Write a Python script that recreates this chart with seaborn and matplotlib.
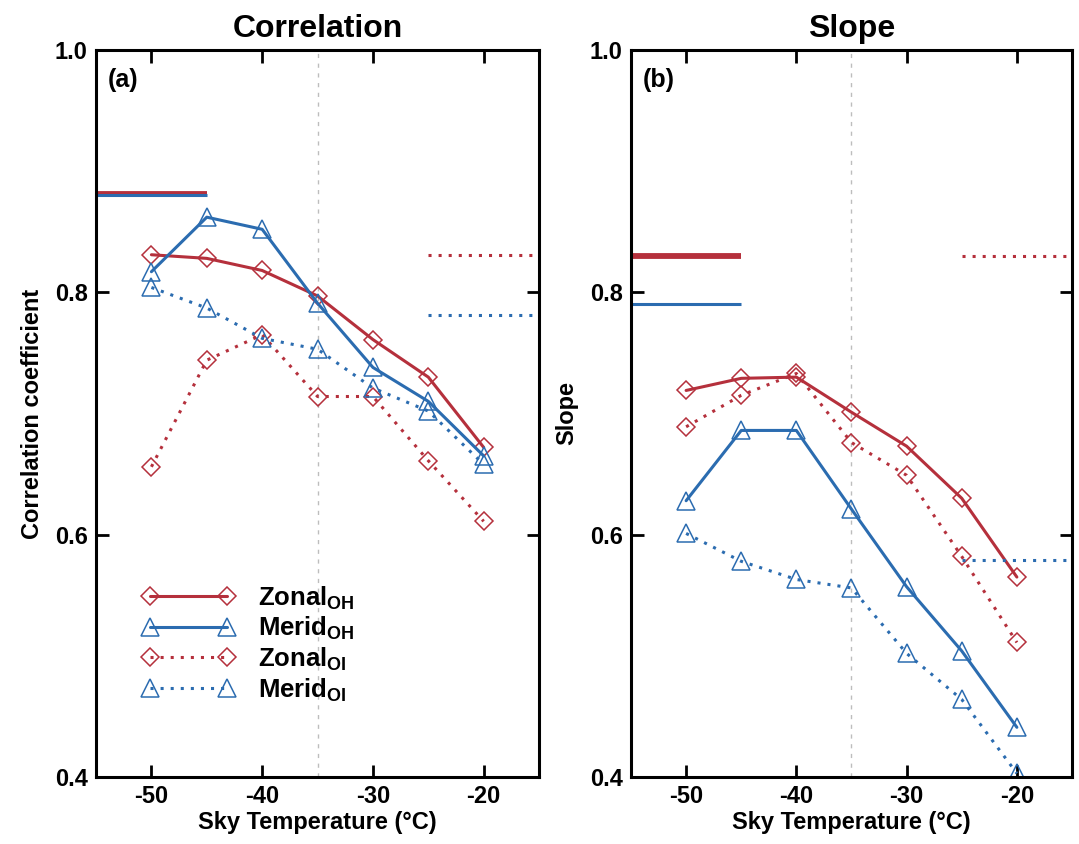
import matplotlib
matplotlib.use("Agg")
import matplotlib.pyplot as plt
import seaborn as sns

# temperaturas do céu (°C)
temps = [-50, -45, -40, -35, -30, -25, -20]

# painel (a) - correlação
corr_zonal_oh = [0.831, 0.828, 0.818, 0.797, 0.761, 0.730, 0.672]
corr_merid_oh = [0.817, 0.862, 0.852, 0.791, 0.738, 0.710, 0.665]
corr_zonal_oi = [0.656, 0.744, 0.765, 0.714, 0.714, 0.661, 0.611]
corr_merid_oi = [0.804, 0.787, 0.762, 0.753, 0.721, 0.702, 0.658]

# painel (b) - inclinação
slope_zonal_oh = [0.719, 0.729, 0.730, 0.701, 0.673, 0.630, 0.565]
slope_merid_oh = [0.628, 0.686, 0.686, 0.621, 0.557, 0.504, 0.441]
slope_zonal_oi = [0.689, 0.715, 0.733, 0.676, 0.649, 0.582, 0.511]
slope_merid_oi = [0.601, 0.578, 0.563, 0.556, 0.502, 0.464, 0.403]

# linhas de referência (OH à esquerda, OI à direita)
ref_corr = {"zonal_oh": 0.881, "merid_oh": 0.880, "zonal_oi": 0.831, "merid_oi": 0.781}
ref_slope = {"zonal_oh": 0.830, "merid_oh": 0.790, "zonal_oi": 0.830, "merid_oi": 0.579}

series_labels = [r"Zonal$_{\mathbf{OH}}$", r"Merid$_{\mathbf{OH}}$",
                 r"Zonal$_{\mathbf{OI}}$", r"Merid$_{\mathbf{OI}}$"]
x_ticks = [-50, -40, -30, -20]
y_ticks = [0.4, 0.6, 0.8, 1.0]

RED = "#B5303C"
BLUE = "#2B6CB0"

sns.set_style("ticks")
plt.rcParams["font.family"] = ["Liberation Sans", "DejaVu Sans"]
plt.rcParams["font.weight"] = "bold"
plt.rcParams["mathtext.fontset"] = "custom"
plt.rcParams["mathtext.bf"] = "Liberation Sans:bold"
plt.rcParams["mathtext.rm"] = "Liberation Sans:bold"
plt.rcParams["axes.unicode_minus"] = False
for k in ["text.color", "axes.labelcolor", "xtick.color", "ytick.color", "axes.edgecolor"]:
    plt.rcParams[k] = "black"

fig = plt.figure(figsize=(10.79, 8.44), dpi=100)
ax_a = fig.add_axes([0.089, 0.0794, 0.4106, 0.8614])
ax_b = fig.add_axes([0.5848, 0.0794, 0.4087, 0.8614])

dots = (0, (1, 2.3))


def desenha(ax, zoh, moh, zoi, moi, ref, titulo, ylabel, letra):
    ax.axvline(-35, color="#bdbdbd", lw=1, ls=(0, (3, 4)), zorder=0)
    estilos = [
        (zoh, RED, "-", "D", 9.5, series_labels[0]),
        (moh, BLUE, "-", "^", 13, series_labels[1]),
        (zoi, RED, dots, "D", 9.5, series_labels[2]),
        (moi, BLUE, dots, "^", 13, series_labels[3]),
    ]
    for vals, cor, ls, mk, ms, lab in estilos:
        sns.lineplot(x=temps, y=vals, ax=ax, color=cor, linestyle=ls, lw=2.2,
                     marker=mk, markersize=ms, mfc="none", mec=cor, mew=1.1,
                     label=lab)
    # referências
    ax.hlines(ref["zonal_oh"], -55, -45, color=RED, lw=4.2)
    ax.hlines(ref["merid_oh"], -55, -45, color=BLUE, lw=2.2)
    ax.hlines(ref["zonal_oi"], -25, -15, color=RED, lw=2.2, linestyles=[dots])
    ax.hlines(ref["merid_oi"], -25, -15, color=BLUE, lw=2.2, linestyles=[dots])

    ax.set_xlim(-55, -15)
    ax.set_ylim(0.4, 1.0)
    ax.set_xticks(x_ticks)
    ax.set_yticks(y_ticks)
    ax.set_yticklabels([f"{v:.1f}" for v in y_ticks])
    ax.tick_params(direction="in", length=9, width=2, top=True, right=True,
                   labelsize=17, pad=6)
    for s in ax.spines.values():
        s.set_linewidth(2.2)
    ax.set_title(titulo, fontsize=23, fontweight="bold", pad=9)
    ax.set_xlabel("Sky Temperature (°C)", fontsize=17, fontweight="bold", labelpad=2)
    ax.set_ylabel(ylabel, fontsize=17, fontweight="bold", labelpad=8)
    ax.text(0.027, 0.959, letra, transform=ax.transAxes, fontsize=18,
            fontweight="bold", va="center", ha="left")
    if ax.get_legend():
        ax.get_legend().remove()


desenha(ax_a, corr_zonal_oh, corr_merid_oh, corr_zonal_oi, corr_merid_oi,
        ref_corr, "Correlation", "Correlation coefficient", "(a)")
desenha(ax_b, slope_zonal_oh, slope_merid_oh, slope_zonal_oi, slope_merid_oi,
        ref_slope, "Slope", "Slope", "(b)")

handles = ax_a.get_lines()[1:5]
ax_a.legend(handles=handles, labels=series_labels, loc="upper left",
            bbox_to_anchor=(0.105, 0.265), frameon=False, fontsize=18.5,
            numpoints=2, handlelength=3.6, handletextpad=0.9,
            labelspacing=0.12, borderpad=0, borderaxespad=0)

fig.savefig("out.png", dpi=100)
